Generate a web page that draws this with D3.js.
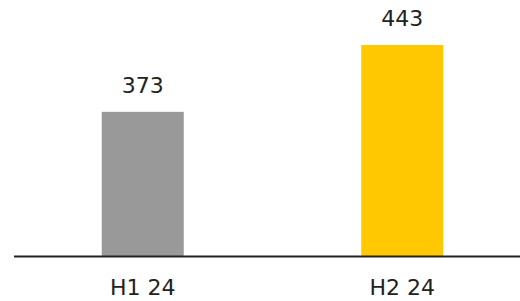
<!DOCTYPE html>
<html>
<head>
<meta charset="utf-8">
<script src="https://cdn.jsdelivr.net/npm/d3@7"></script>
<style>
  body { margin: 0; background: #fff; }
  svg { display: block; font-family: "DejaVu Sans", sans-serif; }
</style>
</head>
<body>
<div id="chart"></div>
<script>
const categories = ["H1 24", "H2 24"];
const values = [373, 443];
const colors = ["#999999", "#FFC800"];

const width = 520, height = 301;
const baseY = 256;

const svg = d3.select("#chart")
  .append("svg")
  .attr("width", width)
  .attr("height", height);

// bands: bar centres at ~143 and ~402
const x = d3.scaleBand()
  .domain(categories)
  .range([13, 532])
  .paddingInner(0.684)
  .paddingOuter(0.342);

// axis doesn't start at zero in the original
const y = d3.scaleLinear()
  .domain([222, 443])
  .range([baseY, 45]);

svg.selectAll("rect.bar")
  .data(values)
  .join("rect")
  .attr("class", "bar")
  .attr("x", (d, i) => x(categories[i]))
  .attr("y", d => y(d))
  .attr("width", x.bandwidth())
  .attr("height", d => baseY - y(d))
  .attr("fill", (d, i) => colors[i]);

// value labels
svg.selectAll("text.val")
  .data(values)
  .join("text")
  .attr("class", "val")
  .attr("x", (d, i) => x(categories[i]) + x.bandwidth() / 2)
  .attr("y", d => y(d) - 19)
  .attr("text-anchor", "middle")
  .attr("font-size", 22)
  .attr("fill", "#222")
  .text(d => d);

// baseline
svg.append("line")
  .attr("x1", 14)
  .attr("x2", width)
  .attr("y1", baseY + 0.5)
  .attr("y2", baseY + 0.5)
  .attr("stroke", "#222")
  .attr("stroke-width", 2);

// category labels
svg.selectAll("text.cat")
  .data(categories)
  .join("text")
  .attr("class", "cat")
  .attr("x", d => x(d) + x.bandwidth() / 2)
  .attr("y", baseY + 39)
  .attr("text-anchor", "middle")
  .attr("font-size", 22)
  .attr("fill", "#222")
  .text(d => d);
</script>
</body>
</html>
